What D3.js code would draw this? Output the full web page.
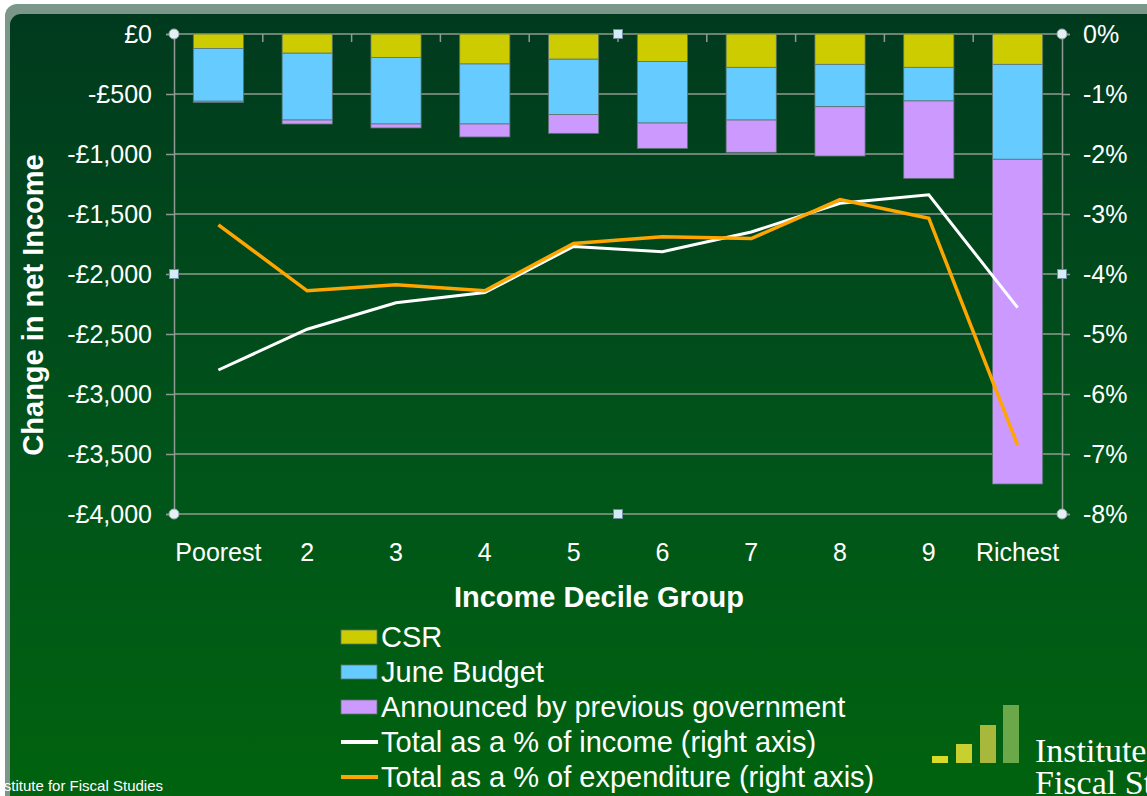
<!DOCTYPE html>
<html>
<head>
<meta charset="utf-8">
<script src="https://cdn.jsdelivr.net/npm/d3@7"></script>
<style>
  body { margin: 0; background: #ffffff; }
  svg { display: block; font-family: "Liberation Sans", Arial, sans-serif; }
</style>
</head>
<body>
<div id="chart"></div>
<script>
// data
var deciles = ["Poorest", "2", "3", "4", "5", "6", "7", "8", "9", "Richest"];
var csr = [-120, -160, -195, -250, -210, -230, -278, -253, -278, -253];
var juneBudget = [-440, -557, -555, -500, -462, -512, -439, -353, -280, -791];
var previousGov = [-10, -33, -33, -108, -156, -211, -269, -411, -645, -2706];
var pctIncome = [-5.6, -4.92, -4.48, -4.31, -3.54, -3.63, -3.3, -2.82, -2.68, -4.56];
var pctExpenditure = [-3.18, -4.28, -4.18, -4.28, -3.49, -3.38, -3.41, -2.76, -3.07, -6.85];
var yTicks = [0, -500, -1000, -1500, -2000, -2500, -3000, -3500, -4000];
var yTickLabels = ["£0", "-£500", "-£1,000", "-£1,500", "-£2,000", "-£2,500", "-£3,000", "-£3,500", "-£4,000"];
var y2Ticks = [0, -1, -2, -3, -4, -5, -6, -7, -8];
var y2TickLabels = ["0%", "-1%", "-2%", "-3%", "-4%", "-5%", "-6%", "-7%", "-8%"];
var seriesNames = ["CSR", "June Budget", "Announced by previous government"];
var seriesColors = ["#cccc00", "#66ccff", "#cc99ff"];
var lineNames = ["Total as a % of income (right axis)", "Total as a % of expenditure (right axis)"];
var lineColors = ["#ffffff", "#ffa500"];

var svgWidth = 1147;
var svgHeight = 796;

var plot = { left: 174, right: 1062, top: 34, bottom: 514 };

var svg = d3.select("#chart")
    .append("svg")
    .attr("width", svgWidth)
    .attr("height", svgHeight);

// background panel
var defs = svg.append("defs");
var grad = defs.append("linearGradient")
    .attr("id", "bg")
    .attr("x1", 0).attr("y1", 0).attr("x2", 0).attr("y2", 1);
grad.append("stop").attr("offset", "0%").attr("stop-color", "#003a1e");
grad.append("stop").attr("offset", "55%").attr("stop-color", "#00541a");
grad.append("stop").attr("offset", "100%").attr("stop-color", "#00640e");

svg.append("rect")
    .attr("x", 5).attr("y", 4)
    .attr("width", 1170).attr("height", 820)
    .attr("rx", 12)
    .attr("fill", "#7a978a");

svg.append("rect")
    .attr("x", 10).attr("y", 14)
    .attr("width", 1160).attr("height", 810)
    .attr("rx", 11)
    .attr("fill", "url(#bg)");

var x = d3.scaleBand()
    .domain(deciles)
    .range([plot.left, plot.right]);

var barWidth = x.bandwidth() * 0.565;

var y = d3.scaleLinear()
    .domain([-4000, 0])
    .range([plot.bottom, plot.top]);

var y2 = d3.scaleLinear()
    .domain([-8, 0])
    .range([plot.bottom, plot.top]);

// gridlines
svg.append("g")
    .selectAll("line")
    .data(yTicks)
    .enter()
    .append("line")
    .attr("x1", plot.left)
    .attr("x2", plot.right)
    .attr("y1", d => y(d))
    .attr("y2", d => y(d))
    .attr("stroke", "#8f9a92")
    .attr("stroke-width", 1.5);

// left axis
var leftAxis = d3.axisLeft(y)
    .tickValues(yTicks)
    .tickSize(8)
    .tickPadding(14)
    .tickFormat((d, i) => yTickLabels[i]);

var gLeft = svg.append("g")
    .attr("transform", `translate(${plot.left}, 0)`)
    .call(leftAxis);

// right axis
var rightAxis = d3.axisRight(y2)
    .tickValues(y2Ticks)
    .tickSize(8)
    .tickPadding(13)
    .tickFormat((d, i) => y2TickLabels[i]);

var gRight = svg.append("g")
    .attr("transform", `translate(${plot.right}, 0)`)
    .call(rightAxis);

[gLeft, gRight].forEach(function(g) {
    g.select(".domain").attr("stroke", "#8f9a92").attr("stroke-width", 1.5);
    g.selectAll(".tick line").attr("stroke", "#8f9a92").attr("stroke-width", 1.5);
    g.selectAll(".tick text")
        .attr("fill", "#ffffff")
        .style("font-size", "25px")
        .style("font-family", "'Liberation Sans', Arial, sans-serif");
});

// category axis: ticks at zero line, labels at the bottom
var bounds = deciles.slice(1).map(d => x(d));
svg.append("g")
    .selectAll("line")
    .data(bounds)
    .enter()
    .append("line")
    .attr("x1", d => d)
    .attr("x2", d => d)
    .attr("y1", y(0))
    .attr("y2", y(0) + 8)
    .attr("stroke", "#8f9a92")
    .attr("stroke-width", 1.5);

svg.append("g")
    .selectAll("text")
    .data(deciles)
    .enter()
    .append("text")
    .attr("x", d => x(d) + x.bandwidth() / 2)
    .attr("y", 561)
    .attr("text-anchor", "middle")
    .attr("fill", "#ffffff")
    .style("font-size", "25px")
    .text(d => d);

// stacked bars
var rows = deciles.map(function(d, i) {
    return { decile: d, csr: csr[i], june: juneBudget[i], prev: previousGov[i] };
});
var stack = d3.stack()
    .keys(["csr", "june", "prev"])
    .offset(d3.stackOffsetDiverging);
var layers = stack(rows);

svg.append("g")
    .selectAll("g")
    .data(layers)
    .enter()
    .append("g")
    .attr("fill", (d, i) => seriesColors[i])
    .selectAll("rect")
    .data(d => d)
    .enter()
    .append("rect")
    .attr("x", d => x(d.data.decile) + (x.bandwidth() - barWidth) / 2)
    .attr("width", barWidth)
    .attr("y", d => y(d[1]))
    .attr("height", d => y(d[0]) - y(d[1]))
    .attr("stroke", "#5c7470")
    .attr("stroke-width", 0.8);

// lines on the right axis
var line = d3.line()
    .x((d, i) => x(deciles[i]) + x.bandwidth() / 2)
    .y(d => y2(d));

[pctIncome, pctExpenditure].forEach(function(series, k) {
    svg.append("path")
        .datum(series)
        .attr("d", line)
        .attr("fill", "none")
        .attr("stroke", lineColors[k])
        .attr("stroke-width", k === 0 ? 3 : 3.5)
        .attr("stroke-linejoin", "miter");
});

// axis titles
svg.append("text")
    .attr("transform", "rotate(-90)")
    .attr("x", -305)
    .attr("y", 43)
    .attr("text-anchor", "middle")
    .attr("fill", "#ffffff")
    .style("font-size", "29px")
    .style("font-weight", "bold")
    .text("Change in net Income");

svg.append("text")
    .attr("x", 599)
    .attr("y", 607)
    .attr("text-anchor", "middle")
    .attr("fill", "#ffffff")
    .style("font-size", "29px")
    .style("font-weight", "bold")
    .text("Income Decile Group");

// legend
var legend = svg.append("g").attr("transform", "translate(341, 0)");
var rowY = [637, 672, 707, 742, 777];

seriesNames.forEach(function(name, i) {
    legend.append("rect")
        .attr("x", 0)
        .attr("y", rowY[i] - 7)
        .attr("width", 36)
        .attr("height", 14)
        .attr("fill", seriesColors[i])
        .attr("stroke", "#5c7470")
        .attr("stroke-width", 0.8);
    legend.append("text")
        .attr("x", 40)
        .attr("y", rowY[i] + 10)
        .attr("fill", "#ffffff")
        .style("font-size", "29px")
        .text(name);
});

lineNames.forEach(function(name, i) {
    var yy = rowY[i + 3];
    legend.append("line")
        .attr("x1", 0).attr("x2", 37)
        .attr("y1", yy).attr("y2", yy)
        .attr("stroke", lineColors[i])
        .attr("stroke-width", 4);
    legend.append("text")
        .attr("x", 40)
        .attr("y", yy + 10)
        .attr("fill", "#ffffff")
        .style("font-size", "29px")
        .text(name);
});

// selection handles of the plot area
var corners = [[plot.left, plot.top], [plot.right, plot.top], [plot.left, plot.bottom], [plot.right, plot.bottom]];
var mids = [[(plot.left + plot.right) / 2, plot.top], [plot.left, (plot.top + plot.bottom) / 2],
            [plot.right, (plot.top + plot.bottom) / 2], [(plot.left + plot.right) / 2, plot.bottom]];

svg.append("g")
    .selectAll("circle")
    .data(corners)
    .enter()
    .append("circle")
    .attr("cx", d => d[0])
    .attr("cy", d => d[1])
    .attr("r", 5)
    .attr("fill", "#e4f0f4")
    .attr("stroke", "#9aaab0")
    .attr("stroke-width", 1);

svg.append("g")
    .selectAll("rect")
    .data(mids)
    .enter()
    .append("rect")
    .attr("x", d => d[0] - 4.5)
    .attr("y", d => d[1] - 4.5)
    .attr("width", 9)
    .attr("height", 9)
    .attr("fill", "#d4ecf8")
    .attr("stroke", "#6e8ea0")
    .attr("stroke-width", 1);

// footer and logo
svg.append("text")
    .attr("x", 163)
    .attr("y", 791)
    .attr("text-anchor", "end")
    .attr("fill", "#ffffff")
    .style("font-size", "15px")
    .text("Institute for Fiscal Studies");

var logoBars = [[932, 756], [956, 744], [980, 725], [1003, 705]];
var logoColors = ["#d8dc28", "#c8d030", "#a8b83a", "#6aa84a"];
svg.append("g")
    .selectAll("rect")
    .data(logoBars)
    .enter()
    .append("rect")
    .attr("x", d => d[0])
    .attr("y", d => d[1])
    .attr("width", 16)
    .attr("height", d => 763 - d[1])
    .attr("fill", (d, i) => logoColors[i]);

svg.append("text")
    .attr("x", 1035)
    .attr("y", 762)
    .attr("fill", "#ffffff")
    .style("font-family", "'Liberation Serif', 'DejaVu Serif', serif")
    .style("font-size", "34px")
    .text("Institute for");

svg.append("text")
    .attr("x", 1035)
    .attr("y", 794)
    .attr("fill", "#ffffff")
    .style("font-family", "'Liberation Serif', 'DejaVu Serif', serif")
    .style("font-size", "34px")
    .text("Fiscal Studies");
</script>
</body>
</html>
